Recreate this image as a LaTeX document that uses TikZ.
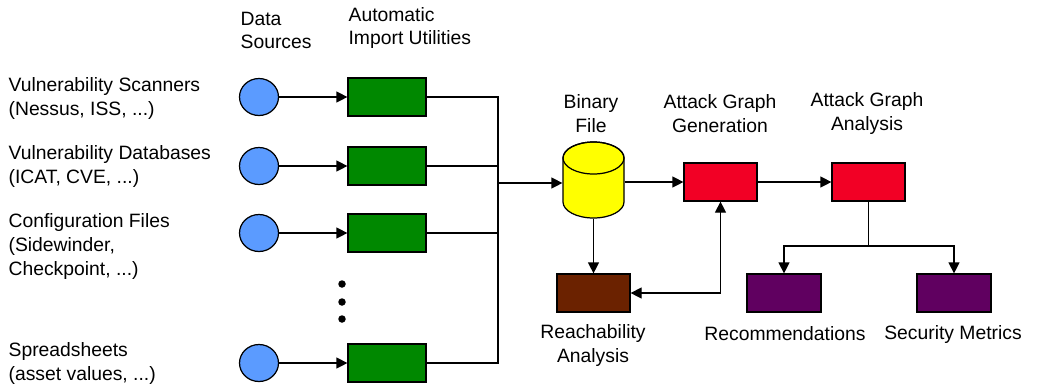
\documentclass[tikz,border=0pt]{standalone}
\usepackage{fontspec}
\setmainfont{Liberation Sans}
\usetikzlibrary{shapes.geometric,arrows.meta}

\definecolor{srcblue}{HTML}{5B9BFF}
\definecolor{impgreen}{HTML}{008800}
\definecolor{binyellow}{HTML}{FFFF00}
\definecolor{graphred}{HTML}{F20025}
\definecolor{reachbrown}{HTML}{6B2200}
\definecolor{outpurple}{HTML}{600060}

\begin{document}
\begin{tikzpicture}[x=0.02cm, y=-0.02cm, line width=0.7pt,
    font=\fontsize{11}{13.4}\selectfont,
    src/.style={ellipse, draw, fill=srcblue, inner sep=0pt,
        minimum width=0.78cm, minimum height=0.74cm},
    util/.style={rectangle, draw, inner sep=0pt,
        minimum width=1.56cm, minimum height=0.76cm},
    dot/.style={circle, fill=black, inner sep=0pt, minimum size=0.15cm},
    lbl/.style={align=left, inner sep=0pt},
    hdr/.style={align=center, inner sep=0pt},
    flow/.style={-{Triangle[length=0.22cm, width=0.22cm]}},
    twoway/.style={{Triangle[length=0.22cm, width=0.22cm]}-{Triangle[length=0.22cm, width=0.22cm]}}]
    \useasboundingbox (0,0) rectangle (1047,390);

    % Column headers
    \node[lbl, anchor=west] (hdData) at (240,30.5) {Data\\Sources};
    \node[lbl, anchor=west] (hdImport) at (348,28) {Automatic\\Import Utilities};

    % Data sources with their import utilities
    \node[lbl, anchor=west] (lblScan) at (8,98.5) {Vulnerability Scanners\\(Nessus, ISS, ...)};
    \node[src] (srcScan) at (259,97) {};
    \node[util, fill=impgreen] (impScan) at (387,97) {};

    \node[lbl, anchor=west] (lblDb) at (8,166.5) {Vulnerability Databases\\(ICAT, CVE, ...)};
    \node[src] (srcDb) at (259,166) {};
    \node[util, fill=impgreen] (impDb) at (387,166) {};

    \node[lbl, anchor=west] (lblConf) at (8,246.5) {Configuration Files\\(Sidewinder,\\Checkpoint, ...)};
    \node[src] (srcConf) at (259,233) {};
    \node[util, fill=impgreen] (impConf) at (387,233) {};

    \node[dot] (dotA) at (342,284) {};
    \node[dot] (dotB) at (342,302) {};
    \node[dot] (dotC) at (342,319) {};

    \node[lbl, anchor=west] (lblSheet) at (8,363.5) {Spreadsheets\\(asset values, ...)};
    \node[src] (srcSheet) at (259,363) {};
    \node[util, fill=impgreen] (impSheet) at (387,363) {};

    \foreach \n in {Scan,Db,Conf,Sheet}
        \draw[flow] (src\n) -- (imp\n);

    % Collecting bus
    \coordinate (bus) at (498,183);
    \foreach \n in {Scan,Db,Conf,Sheet}
        \draw (imp\n.east) -| (bus);

    % Binary file (cylinder drawn round an empty node)
    \node[hdr] (hdBin) at (591,113.5) {Binary\\File};
    \node[inner sep=0pt, minimum width=1.22cm, minimum height=1.52cm] (bin) at (593.5,180) {};
    \draw[fill=binyellow] (563,158) -- (563,202)
        arc[start angle=180, end angle=0, x radius=30.5, y radius=16]
        -- (624,158)
        arc[start angle=0, end angle=-180, x radius=30.5, y radius=16] -- cycle;
    \draw (593.5,158) ellipse[x radius=30.5, y radius=16];
    \draw[flow] (bus) -- (bus -| bin.west);

    % Attack graph generation and analysis
    \node[hdr] (hdGen) at (720,113.5) {Attack Graph\\Generation};
    \node[util, fill=graphred, minimum width=1.46cm] (gen) at (720.5,182) {};
    \node[hdr] (hdAna) at (867,113.5) {Attack Graph\\Analysis};
    \node[util, fill=graphred, minimum width=1.46cm] (ana) at (868.5,182) {};
    \draw[flow] (bin.east |- gen.west) -- (gen.west);
    \draw[flow] (gen) -- (ana);

    % Reachability
    \node[util, fill=reachbrown, minimum width=1.46cm] (reach) at (593.5,293) {};
    \node[hdr] (lblReach) at (593,345.5) {Reachability\\Analysis};
    \draw[flow] (bin.south) -- (reach.north);
    \draw[twoway] (gen.south) |- (reach.east);

    % Outputs
    \node[util, fill=outpurple, minimum width=1.48cm] (rec) at (784,293) {};
    \node[hdr] (lblRec) at (785,334) {Recommendations};
    \node[util, fill=outpurple, minimum width=1.48cm] (sec) at (954,293) {};
    \node[hdr] (lblSec) at (953,334) {Security Metrics};
    \coordinate (fork) at (868.5,246);
    \draw (ana.south) -- (fork);
    \draw[flow] (fork) -| (rec.north);
    \draw[flow] (fork) -| (sec.north);
\end{tikzpicture}
\end{document}
